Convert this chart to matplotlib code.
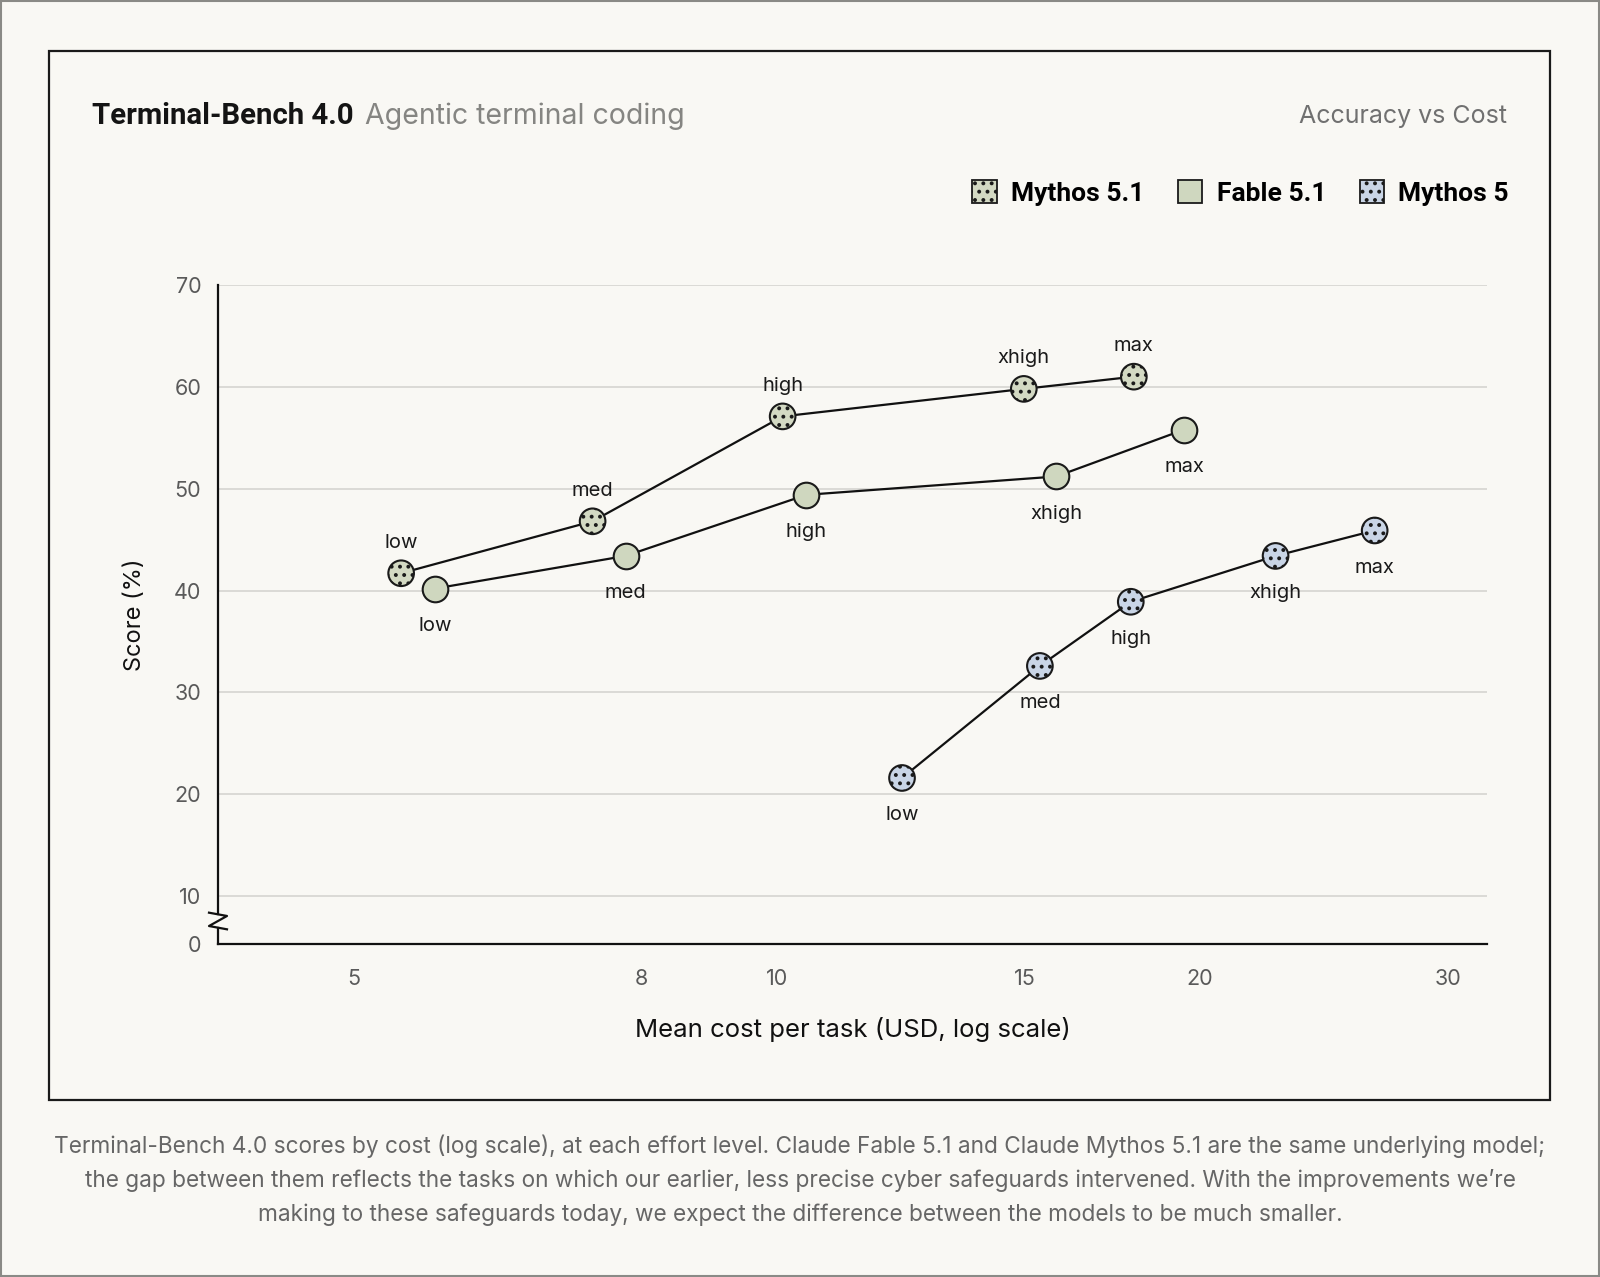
import matplotlib
matplotlib.use('Agg')
import matplotlib.pyplot as plt
from matplotlib.patches import Patch, Rectangle
from matplotlib.ticker import FixedLocator, NullLocator

plt.rcParams['font.family'] = ['Inter', 'DejaVu Sans']
plt.rcParams['hatch.linewidth'] = 1.6

# data
efforts = ['low', 'med', 'high', 'xhigh', 'max']

mythos51_cost = [5.40, 7.39, 10.09, 14.98, 17.94]
mythos51_score = [41.7, 46.8, 57.1, 59.8, 61.0]

fable51_cost = [5.71, 7.80, 10.49, 15.80, 19.48]
fable51_score = [40.2, 43.4, 49.4, 51.2, 55.8]

mythos5_cost = [12.27, 15.38, 17.85, 22.63, 26.62]
mythos5_score = [21.6, 32.6, 38.9, 43.4, 45.9]

x_ticks = [5, 8, 10, 15, 20, 30]
y_ticks = [10, 20, 30, 40, 50, 60, 70]

BG = '#f9f8f4'
W, H = 1600, 1277


def fx(px):
    return px / W


def fy(py):
    return 1 - py / H


fig = plt.figure(figsize=(16, 12.77), dpi=100, facecolor=BG)

# outer frame and inner box
fig.add_artist(Rectangle((0.0005, 0.0005), 0.999, 0.999, transform=fig.transFigure,
                         fill=False, edgecolor='#8a8a86', lw=1.5))
fig.add_artist(Rectangle((fx(49), fy(1100)), fx(1550) - fx(49), fy(51) - fy(1100),
                         transform=fig.transFigure, fill=False, edgecolor='#1a1a1a', lw=1.6))

ax = fig.add_axes([fx(218), fy(944), fx(1487) - fx(218), fy(285) - fy(944)])
ax.set_facecolor(BG)

series = [
    ('Mythos 5.1', mythos51_cost, mythos51_score, '#d3d9c3', '..', 'above'),
    ('Fable 5.1', fable51_cost, fable51_score, '#cfd7bf', None, 'below'),
    ('Mythos 5', mythos5_cost, mythos5_score, '#c9d5e6', '..', 'below'),
]

for name, xs, ys, color, hatch, pos in series:
    ax.plot(xs, ys, color='#111111', lw=1.6, zorder=3)
    ax.scatter(xs, ys, s=340, facecolor=color, edgecolor='#1a1a1a', linewidths=1.5,
               hatch=hatch, zorder=4)
    for e, x, y in zip(efforts, xs, ys):
        dy = 22 if pos == 'above' else -27
        ax.annotate(e, (x, y), xytext=(0, dy), textcoords='offset points',
                    ha='center', va='center', fontsize=14.5, color='#1a1a1a')

ybot = 5.3
ax.set_xscale('log')
ax.set_xlim(4.0, 32.0)
ax.set_ylim(ybot, 70)
ax.xaxis.set_major_locator(FixedLocator(x_ticks))
ax.xaxis.set_minor_locator(NullLocator())
ax.set_xticklabels([str(t) for t in x_ticks])
ax.set_yticks([ybot] + y_ticks)
ax.set_yticklabels(['0'] + [str(t) for t in y_ticks])
ax.tick_params(axis='both', length=0, labelsize=15.5, labelcolor='#5a5a5a')
ax.tick_params(axis='x', pad=18)
ax.tick_params(axis='y', pad=12)
ax.grid(axis='y', color='#d2d2ce', lw=1.1)
ax.set_axisbelow(True)

for s in ['top', 'right', 'left']:
    ax.spines[s].set_visible(False)
ax.spines['bottom'].set_color('#111111')
ax.spines['bottom'].set_linewidth(1.6)

# left spine with break mark between 0 and 10
b_top = (944 - 914) / 659
b_bot = (944 - 928) / 659
dxz = 9 / 1269
ax.plot([0, 0], [b_top, 1], transform=ax.transAxes, color='#111111', lw=1.6, clip_on=False)
ax.plot([0, 0], [0, b_bot], transform=ax.transAxes, color='#111111', lw=1.6, clip_on=False)
ax.plot([-dxz, dxz, -dxz, dxz], [b_top + 0.002, b_top - 0.003, b_bot + 0.003, b_bot - 0.002],
        transform=ax.transAxes, color='#111111', lw=1.6, clip_on=False)

ax.set_xlabel('Mean cost per task (USD, log scale)', fontsize=18.5, color='#111111', labelpad=20)
ax.set_ylabel('Score (%)', fontsize=17, color='#111111', labelpad=20)

# title row
t1 = fig.text(fx(92), fy(116), 'Terminal-Bench 4.0', fontsize=21.2, fontweight='bold',
              family=['Roboto', 'DejaVu Sans'], color='#141414', ha='left', va='center')
fig.canvas.draw()
bb = t1.get_window_extent()
fig.text(bb.x1 / W + fx(11), fy(116), 'Agentic terminal coding', fontsize=20.5,
         color='#858582', ha='left', va='center')
fig.text(fx(1507), fy(117), 'Accuracy vs Cost', fontsize=18, color='#707070',
         ha='right', va='center')

handles = [Patch(facecolor=c, edgecolor='#1a1a1a', hatch=h, lw=1.3, label=n)
           for n, _, _, c, h, _ in series]
fig.legend(handles=handles, loc='center right', bbox_to_anchor=(fx(1509), fy(193)),
           ncol=3, frameon=False, handlelength=0.93, handleheight=0.93, handletextpad=0.54,
           columnspacing=1.27, borderpad=0, borderaxespad=0,
           prop={'size': 19, 'weight': 'bold', 'family': ['Roboto', 'DejaVu Sans']})

caption = [
    'Terminal-Bench 4.0 scores by cost (log scale), at each effort level. Claude Fable 5.1 and Claude Mythos 5.1 are the same underlying model;',
    'the gap between them reflects the tasks on which our earlier, less precise cyber safeguards intervened. With the improvements we\u2019re',
    'making to these safeguards today, we expect the difference between the models to be much smaller.',
]
for i, line in enumerate(caption):
    fig.text(0.5, fy(1146 + 34.5 * i), line, fontsize=16.3, color='#666666',
             ha='center', va='center')

fig.savefig('out.png', dpi=100, facecolor=BG)
